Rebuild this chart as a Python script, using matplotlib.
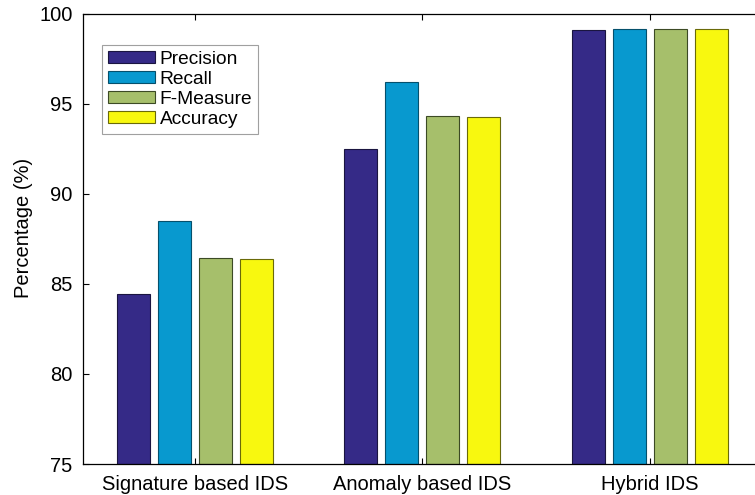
import numpy as np
import matplotlib.pyplot as plt

plt.rcParams['font.family'] = ['Liberation Sans', 'DejaVu Sans']

groups = ["Signature based IDS", "Anomaly based IDS", "Hybrid IDS"]
metrics = ["Precision", "Recall", "F-Measure", "Accuracy"]
precision = [84.45, 92.5, 99.1]
recall = [88.5, 96.2, 99.15]
fmeasure = [86.42, 94.3, 99.15]
accuracy = [86.38, 94.27, 99.15]
colors = ["#352A87", "#0899CF", "#A6BF6B", "#F8F80F"]
edges = ["#1a1540", "#05506c", "#3c4a25", "#6a6a08"]

fig = plt.figure(figsize=(7.55, 4.95), dpi=100)
ax = fig.add_axes([0.110, 0.0626, 0.89, 0.9094])

x = np.arange(1, len(groups) + 1)
offsets = [-0.27, -0.09, 0.09, 0.27]
width = 0.145
for vals, off, c, ec, name in zip([precision, recall, fmeasure, accuracy],
                                   offsets, colors, edges, metrics):
    ax.bar(x + off, np.array(vals) - 75, width, bottom=75, color=c,
           edgecolor=ec, linewidth=0.8, label=name)

ax.set_xlim(0.51, 3.46)
ax.set_ylim(75, 100)
ax.set_yticks([75, 80, 85, 90, 95, 100])
ax.set_xticks(x)
ax.set_xticklabels(groups)
ax.tick_params(direction='in', top=True, labelsize=14.5, length=4, width=0.8)
ax.tick_params(axis='y', pad=7.5)
ax.tick_params(axis='x', pad=8)
ax.set_ylabel("Percentage (%)", fontsize=14.5)
ax.yaxis.set_label_coords(-0.0744, 0.524)
for s in ax.spines.values():
    s.set_linewidth(0.9)
ax.spines['right'].set_visible(False)

leg = ax.legend(loc='upper left', bbox_to_anchor=(0.0283, 0.931), borderaxespad=0,
                fancybox=False, edgecolor='#888888', fontsize=13.8,
                handlelength=2.45, handleheight=0.65, handletextpad=0.26,
                labelspacing=0.15, borderpad=0.3)
leg.get_frame().set_linewidth(0.8)

fig.savefig("out.png", dpi=100)
